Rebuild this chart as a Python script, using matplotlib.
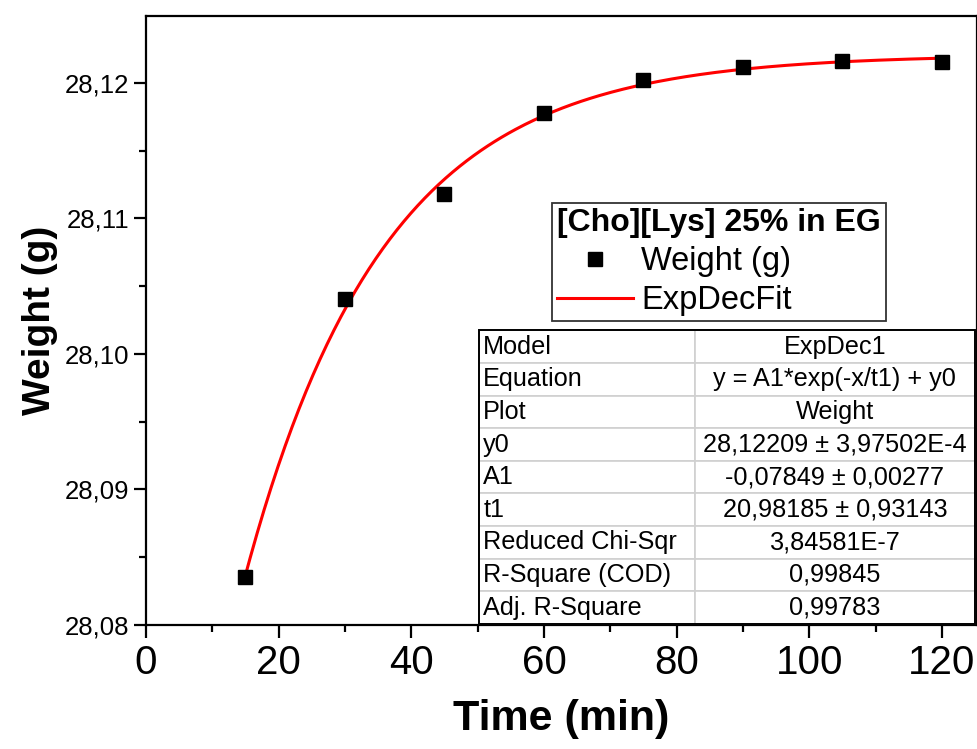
import matplotlib
matplotlib.use("Agg")
import matplotlib.pyplot as plt
from matplotlib import font_manager
from matplotlib.ticker import MultipleLocator
from matplotlib.lines import Line2D
import numpy as np

# measured data
time_min = [15, 30, 45, 60, 75, 90, 105, 120]
weight_g = [28.08356, 28.10406, 28.11181, 28.11779, 28.12022, 28.12118, 28.12162, 28.12155]

# fit parameters (ExpDec1)
y0 = 28.12209
A1 = -0.07849
t1 = 20.98185

x_ticks = [0, 20, 40, 60, 80, 100, 120]
y_ticks = [28.08, 28.09, 28.10, 28.11, 28.12]
y_tick_labels = ["28,08", "28,09", "28,10", "28,11", "28,12"]

table_rows = [
    ["Model", "ExpDec1"],
    ["Equation", "y = A1*exp(-x/t1) + y0"],
    ["Plot", "Weight"],
    ["y0", "28,12209 \u00b1 3,97502E-4"],
    ["A1", "-0,07849 \u00b1 0,00277"],
    ["t1", "20,98185 \u00b1 0,93143"],
    ["Reduced Chi-Sqr", "3,84581E-7"],
    ["R-Square (COD)", "0,99845"],
    ["Adj. R-Square", "0,99783"],
]

names = {f.name for f in font_manager.fontManager.ttflist}
base_font = "Liberation Sans" if "Liberation Sans" in names else "DejaVu Sans"
narrow_font = "Liberation Sans Narrow" if "Liberation Sans Narrow" in names else base_font
plt.rcParams['font.family'] = [base_font, 'DejaVu Sans']


def main():
    fig = plt.figure(figsize=(9.78, 7.49), dpi=100)
    ax = fig.add_axes([0.1493, 0.1656, 0.8497, 0.8135])

    # fit curve from the reported parameters
    xf = np.linspace(time_min[0], time_min[-1], 300)
    yf = y0 + A1 * np.exp(-xf / t1)
    ax.plot(xf, yf, color="#ff0000", lw=2.2, zorder=2)
    ax.plot(time_min, weight_g, ls="none", marker="s", ms=9.4, color="black", zorder=3)

    ax.set_xlim(0, 125.3)
    ax.set_ylim(28.08, 28.12497)

    ax.set_xticks(x_ticks)
    ax.xaxis.set_minor_locator(MultipleLocator(10))
    ax.set_yticks(y_ticks)
    ax.set_yticklabels(y_tick_labels)
    ax.yaxis.set_minor_locator(MultipleLocator(0.005))

    for s in ax.spines.values():
        s.set_linewidth(1.6)
    ax.tick_params(which="major", direction="out", length=9, width=1.6,
                   top=False, right=False)
    ax.tick_params(which="minor", direction="out", length=5, width=1.6,
                   top=False, right=False)
    ax.tick_params(axis="y", labelsize=18.5, pad=3)
    ax.tick_params(axis="x", labelsize=29, pad=5)
    for lab in ax.get_xticklabels():
        lab.set_family(narrow_font)

    ax.set_xlabel("Time (min)", fontsize=31, fontweight="bold", family=narrow_font, labelpad=12)
    ax.set_ylabel("Weight (g)", fontsize=28, fontweight="bold", labelpad=5)

    # legend
    handles = [
        Line2D([], [], ls="none", marker="s", ms=10, color="black"),
        Line2D([], [], color="#ff0000", lw=2.2),
    ]
    leg = ax.legend(handles, ["Weight (g)", "ExpDecFit"],
                    title="[Cho][Lys] 25% in EG",
                    loc="upper left", bbox_to_anchor=(0.4886, 0.6926),
                    fontsize=23.5, title_fontproperties={"weight": "bold", "size": 23},
                    frameon=True, fancybox=False, edgecolor="black", alignment="left",
                    handlelength=2.33, handletextpad=0.25, borderpad=0.15,
                    labelspacing=0.25, borderaxespad=0, markerfirst=True)
    leg.get_frame().set_linewidth(1.3)
    leg.set_zorder(4)

    # fit result table
    tbl = ax.table(cellText=table_rows, cellLoc="center",
                   bbox=[0.4007, 0.0019, 0.5971, 0.4815], zorder=5)
    tbl.auto_set_font_size(False)
    tbl.set_fontsize(18.2)
    ncol_w = [0.4346, 0.5654]
    for (r, c), cell in tbl.get_celld().items():
        cell.set_edgecolor("#d0d0d0")
        cell.set_linewidth(1.2)
        cell.set_facecolor("white")
        cell.set_width(ncol_w[c] * 0.5971)
        if c == 0:
            cell.get_text().set_ha("left")
            cell.PAD = 0.02
    ax.add_patch(plt.Rectangle((0.4007, 0.0019), 0.5971, 0.4815, transform=ax.transAxes,
                               fill=False, edgecolor="black", lw=1.4, zorder=6, clip_on=False))

    fig.savefig("out.png", dpi=100)


if __name__ == '__main__':
    main()
